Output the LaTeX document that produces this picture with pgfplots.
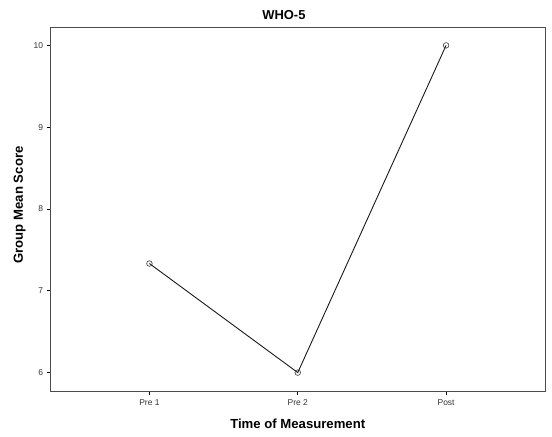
\documentclass[border=0pt]{standalone}
\usepackage{fontspec}
\setmainfont{Liberation Sans}
\usepackage{pgfplots}
\pgfplotsset{compat=1.18}
\begin{document}
\begin{tikzpicture}[x=1bp,y=1bp]
\begin{axis}[
    at={(50.5bp,46bp)}, anchor=south west,
    scale only axis,
    width=494.5bp, height=364bp,
    xmin=-0.667, xmax=2.667,
    ymin=5.775, ymax=10.225,
    xtick={0,1,2},
    xticklabels={Pre 1,Pre 2,Post},
    ytick={6,7,8,9,10},
    tick align=outside,
    tick pos=lower,
    major tick length=4bp,
    tick style={black, line width=0.8pt},
    axis line style={black!70, line width=0.8pt},
    tick label style={font=\fontsize{8.5}{10}\selectfont, text=black!80},
    /pgf/number format/assume math mode=true,
    xticklabel style={yshift=-1bp},
    title={\textbf{WHO-5}},
    title style={font=\fontsize{13}{15}\selectfont, at={(axis description cs:0.472,1.0343)}, anchor=center, yshift=-6.5bp},
    xlabel={\textbf{Time of Measurement}},
    ylabel={\textbf{Group Mean Score}},
    label style={font=\fontsize{13.2}{15}\selectfont},
    xlabel style={at={(axis description cs:0.5,-0.0907)}, anchor=center},
    ylabel style={at={(axis description cs:-0.0625,0.511)}, anchor=center},
]
\addplot[black!90, line width=0.9pt, mark=o, mark size=2.8bp, mark options={black!80, line width=0.6pt}]
coordinates {(0,7.333) (1,6.0) (2,10.0)};
\end{axis}
\pgfresetboundingbox
\useasboundingbox (0,0) rectangle (552,437);
\end{tikzpicture}
\end{document}
